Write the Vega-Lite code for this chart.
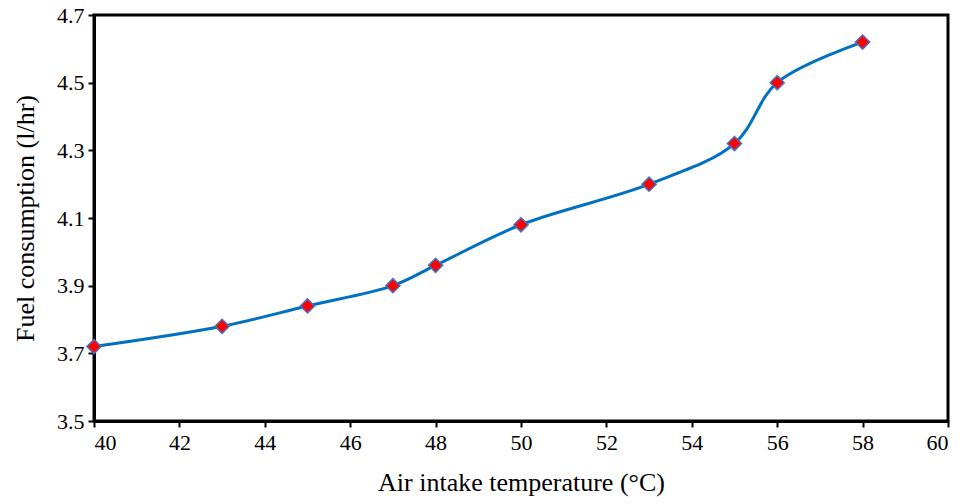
{
  "$schema": "https://vega.github.io/schema/vega-lite/v6.json",
  "width": 854,
  "height": 406,
  "autosize": "none",
  "padding": {"left": 94, "top": 15, "right": 17, "bottom": 83},
  "background": "white",
  "config": {
    "view": {"stroke": "black", "strokeWidth": 3},
    "font": "Liberation Serif",
    "style": {
      "guide-label": {"font": "Liberation Serif", "fontSize": 22, "fill": "black"},
      "guide-title": {"font": "Liberation Serif", "fontSize": 26, "fill": "black", "fontWeight": "normal"}
    },
    "axis": {
      "labelFont": "Liberation Serif",
      "labelFontSize": 22,
      "titleFontWeight": "normal",
      "labelColor": "black",
      "titleColor": "black",
      "domainColor": "black",
      "domainWidth": 3,
      "tickColor": "black",
      "tickWidth": 2,
      "tickSize": 6,
      "grid": false
    },
    "axisQuantitative": {"labelFont": "Liberation Serif", "labelFontSize": 22}
  },
  "data": {
    "values": [
      {"temp": 40, "fuel": 3.72},
      {"temp": 43, "fuel": 3.78},
      {"temp": 45, "fuel": 3.84},
      {"temp": 47, "fuel": 3.90},
      {"temp": 48, "fuel": 3.96},
      {"temp": 50, "fuel": 4.08},
      {"temp": 53, "fuel": 4.20},
      {"temp": 55, "fuel": 4.32},
      {"temp": 56, "fuel": 4.50},
      {"temp": 58, "fuel": 4.62}
    ]
  },
  "encoding": {
    "x": {
      "field": "temp",
      "type": "quantitative",
      "scale": {"domain": [40, 60], "nice": false, "zero": false},
      "axis": {"values": [40, 42, 44, 46, 48, 50, 52, 54, 56, 58, 60], "title": "Air intake temperature (°C)", "labelFont": "Liberation Serif", "titleFont": "Liberation Serif", "labelFontSize": 22, "titleFontSize": 26, "labelPadding": 5, "titlePadding": 16}
    },
    "y": {
      "field": "fuel",
      "type": "quantitative",
      "scale": {"domain": [3.5, 4.7], "nice": false, "zero": false},
      "axis": {"values": [3.5, 3.7, 3.9, 4.1, 4.3, 4.5, 4.7], "format": ".1f", "title": "Fuel consumption (l/hr)", "labelFont": "Liberation Serif", "titleFont": "Liberation Serif", "labelFontSize": 22, "titleFontSize": 26, "labelPadding": 4, "titlePadding": 18}
    }
  },
  "layer": [
    {
      "mark": {"type": "line", "color": "#0070C0", "strokeWidth": 3, "interpolate": "catmull-rom"}
    },
    {
      "mark": {"type": "point", "shape": "diamond", "filled": true, "fill": "red", "stroke": "#4472C4", "strokeWidth": 1.5, "size": 200, "opacity": 1}
    }
  ]
}
